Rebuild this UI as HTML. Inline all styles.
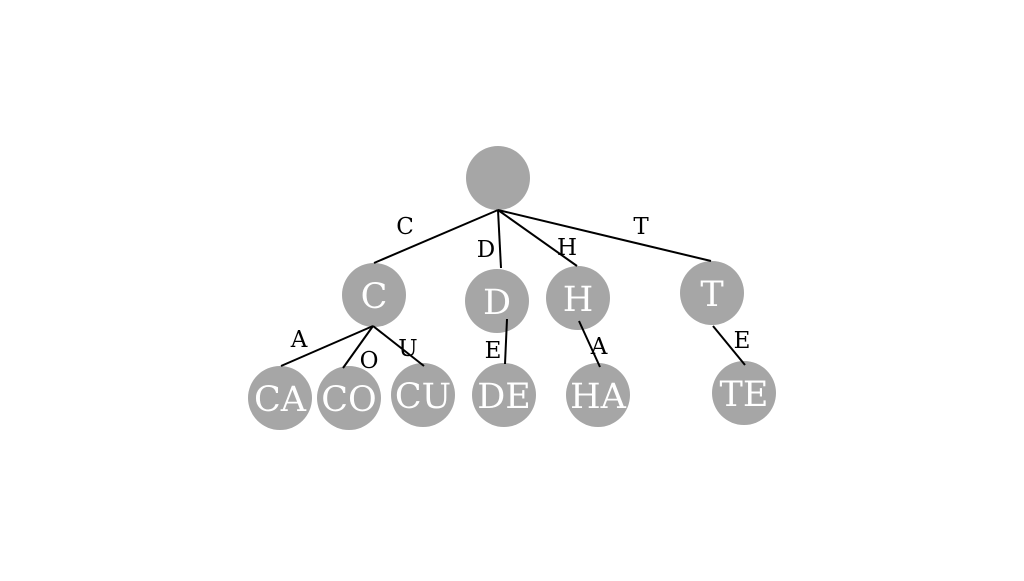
<!DOCTYPE html>
<html><head><style>html,body{margin:0;padding:0;background:#fff}</style></head><body>
<svg width="1024" height="576" xmlns="http://www.w3.org/2000/svg" font-family="'DejaVu Serif','Liberation Serif',serif">
<g fill="#a6a6a6">
<circle cx="498" cy="178" r="32"/>
<circle cx="374" cy="295" r="32"/>
<circle cx="497" cy="301" r="32"/>
<circle cx="578" cy="298" r="32"/>
<circle cx="712" cy="293" r="32"/>
<circle cx="280" cy="398" r="32"/>
<circle cx="349" cy="398" r="32"/>
<circle cx="423" cy="395" r="32"/>
<circle cx="504" cy="395" r="32"/>
<circle cx="598" cy="395" r="32"/>
<circle cx="744" cy="393" r="32"/>
</g>
<g stroke="#000" stroke-width="2">
<line x1="498" y1="210" x2="374" y2="263"/>
<line x1="498" y1="210" x2="501" y2="268"/>
<line x1="498" y1="210" x2="577" y2="266"/>
<line x1="498" y1="210" x2="711" y2="261"/>
<line x1="373" y1="326" x2="281" y2="366"/>
<line x1="373" y1="326" x2="343" y2="368"/>
<line x1="373" y1="326" x2="424" y2="366"/>
<line x1="507" y1="319" x2="505" y2="364"/>
<line x1="579" y1="321" x2="600" y2="367"/>
<line x1="713" y1="326" x2="745" y2="365"/>
</g>
<g font-size="23" fill="#000" text-anchor="middle">
<text x="405" y="234">C</text>
<text x="486" y="257">D</text>
<text x="567" y="255">H</text>
<text x="641" y="234">T</text>
<text x="299" y="347">A</text>
<text x="369" y="368">O</text>
<text x="408" y="356">U</text>
<text x="493" y="358">E</text>
<text x="599" y="354">A</text>
<text x="742" y="348">E</text>
</g>
<g font-size="35" fill="#fff" text-anchor="middle">
<text x="374" y="308">C</text>
<text x="497" y="314">D</text>
<text x="578" y="311">H</text>
<text x="712" y="306">T</text>
<text x="280" y="411">CA</text>
<text x="349" y="411">CO</text>
<text x="423" y="408">CU</text>
<text x="504" y="408">DE</text>
<text x="598" y="408">HA</text>
<text x="744" y="406">TE</text>
</g>
</svg>
</body></html>
